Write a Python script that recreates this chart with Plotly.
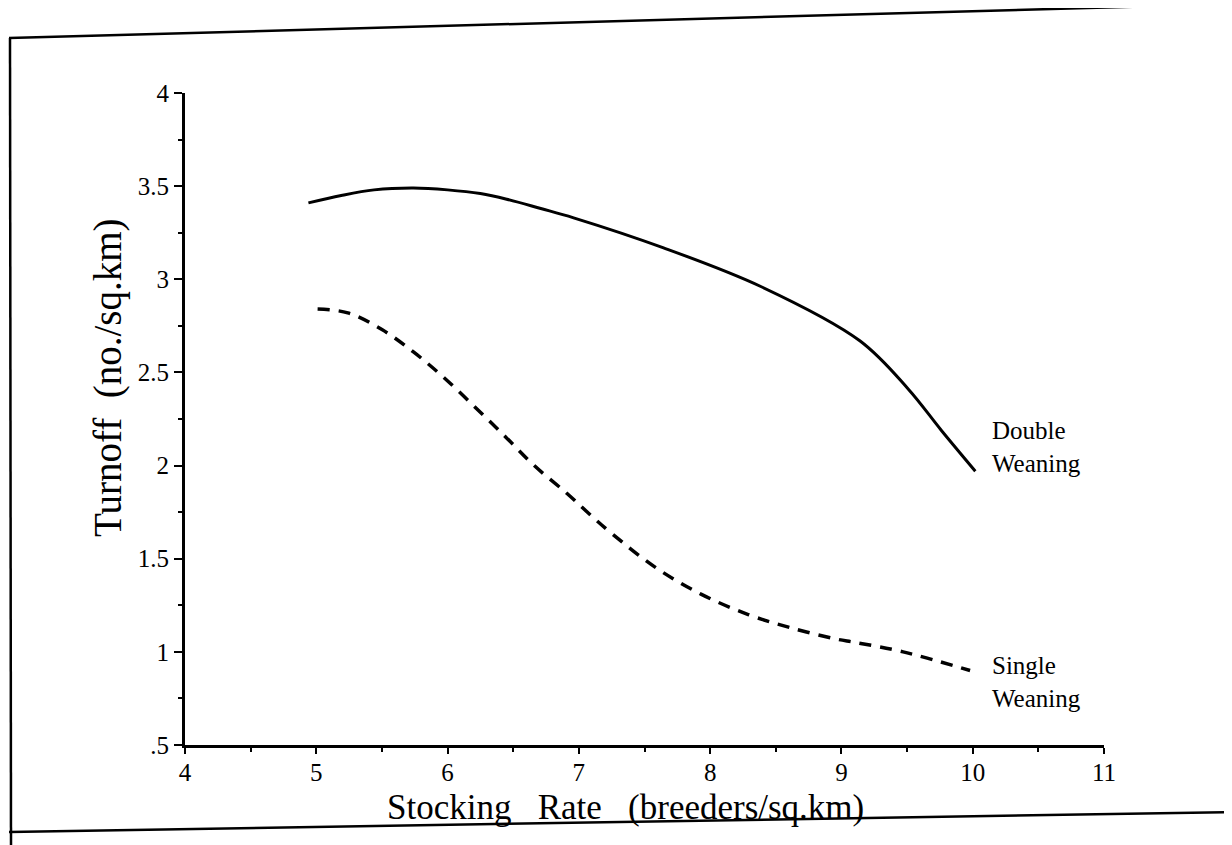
import plotly.graph_objects as go

# Data
double_x = [4.94, 5.19, 5.44, 5.74, 6.00, 6.25, 6.45, 6.71, 6.96, 7.64, 8.39, 9.14, 9.51, 9.76, 10.02]
double_y = [3.41, 3.45, 3.48, 3.49, 3.48, 3.46, 3.43, 3.38, 3.33, 3.17, 2.96, 2.67, 2.41, 2.19, 1.97]

single_x = [5.01, 5.24, 5.50, 5.74, 5.96, 6.20, 6.44, 6.66, 6.91, 7.08, 7.26, 7.59, 7.93, 8.29, 8.61, 8.95, 9.11, 9.47, 9.98]
single_y = [2.84, 2.82, 2.73, 2.61, 2.48, 2.32, 2.155, 2.00, 1.85, 1.74, 1.63, 1.45, 1.31, 1.20, 1.13, 1.07, 1.05, 1.00, 0.90]

x_ticks = [4, 5, 6, 7, 8, 9, 10, 11]
x_tick_labels = ["4", "5", "6", "7", "8", "9", "10", "11"]
y_ticks = [0.5, 1, 1.5, 2, 2.5, 3, 3.5, 4]
y_tick_labels = [".5", "1", "1.5", "2", "2.5", "3", "3.5", "4"]

x_title = "Stocking Rate (breeders/sq.km)"
y_title = "Turnoff (no./sq.km)"

FONT = "Liberation Serif"
NB = "\u00a0"

OFF = 8  # page offset of the plot div
W, H = 1224, 837
L, T = 185 - OFF, 93 - OFF
pw, ph = 919, 652
R, B = W - L - pw, H - T - ph


def px(xp):
    return (xp - OFF - L) / pw


def py(yp):
    return (T + ph - (yp - OFF)) / ph


fig = go.Figure()
fig.add_trace(go.Scatter(x=double_x, y=double_y, mode="lines",
                         line=dict(color="black", width=3, shape="spline", smoothing=1.0),
                         name="Double Weaning", showlegend=False))
fig.add_trace(go.Scatter(x=single_x, y=single_y, mode="lines",
                         line=dict(color="black", width=3.5, shape="spline", smoothing=1.0, dash="12px,9px"),
                         name="Single Weaning", showlegend=False))

fig.add_annotation(x=10.13, y=2.1, xref="x", yref="y", text="Double<br>Weaning", showarrow=False,
                   xanchor="left", yanchor="middle", align="left", font=dict(family=FONT, size=25, color="black"))
fig.add_annotation(x=10.13, y=0.84, xref="x", yref="y", text="Single<br>Weaning", showarrow=False,
                   xanchor="left", yanchor="middle", align="left", font=dict(family=FONT, size=25, color="black"))

# axis titles (placed like the scanned original)
fig.add_annotation(x=px(625), y=py(807), xref="paper", yref="paper", showarrow=False,
                   text=x_title.replace(" ", NB * 3), xanchor="center", yanchor="middle",
                   font=dict(family=FONT, size=35, color="black"))
fig.add_annotation(x=px(108), y=py(378), xref="paper", yref="paper", showarrow=False, textangle=-90,
                   text=y_title.replace(" ", NB * 2), xanchor="center", yanchor="middle",
                   font=dict(family=FONT, size=39, color="black"))

# page frame of the scanned sheet
frame = [((9, 38), (1232, 4)), ((10, 38), (11, 845)), ((9, 832), (1232, 812)), ((1228, 4), (1228, 812))]
for (x0, y0), (x1, y1) in frame:
    fig.add_shape(type="line", xref="paper", yref="paper", x0=px(x0), y0=py(y0), x1=px(x1), y1=py(y1),
                  line=dict(color="black", width=2.5))

fig.update_xaxes(range=[4, 11], tickmode="array", tickvals=x_ticks, ticktext=x_tick_labels,
                 showline=True, linecolor="black", linewidth=3, ticks="outside", ticklen=6, tickwidth=2,
                 tickcolor="black", showgrid=False, zeroline=False, ticklabelstandoff=-3,
                 minor=dict(dtick=0.5, ticks="outside", ticklen=4, tickwidth=1.5, tickcolor="black"),
                 tickfont=dict(family=FONT, size=25, color="black"))
fig.update_yaxes(range=[0.5, 4], tickmode="array", tickvals=y_ticks, ticktext=y_tick_labels,
                 showline=True, linecolor="black", linewidth=3, ticks="outside", ticklen=8, tickwidth=2,
                 tickcolor="black", showgrid=False, zeroline=False,
                 minor=dict(dtick=0.25, ticks="outside", ticklen=4, tickwidth=1.5, tickcolor="black"),
                 tickfont=dict(family=FONT, size=25, color="black"))

fig.update_layout(width=W, height=H, margin=dict(l=L, r=R, t=T, b=B), plot_bgcolor="white",
                  paper_bgcolor="white", showlegend=False)

fig.write_html("out.html")
